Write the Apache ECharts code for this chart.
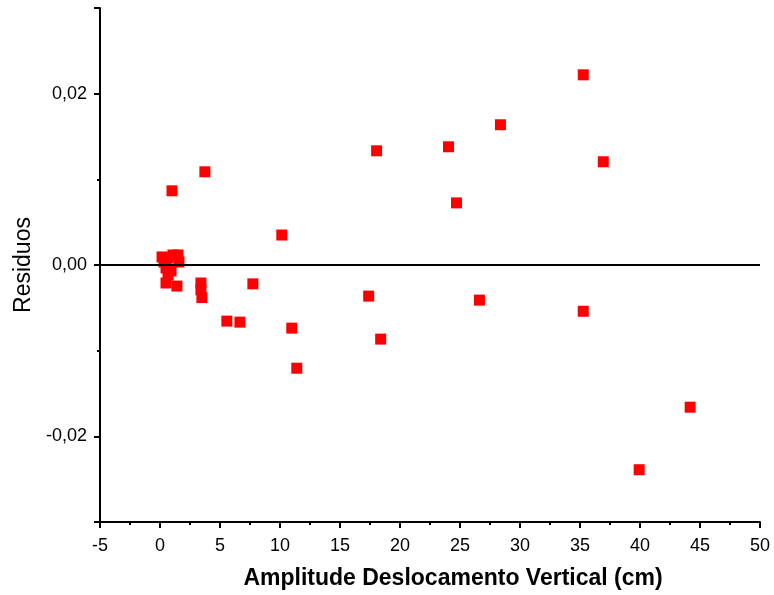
<!DOCTYPE html>
<html>
<head>
<meta charset="utf-8">
<script src="https://cdn.jsdelivr.net/npm/echarts@6/dist/echarts.min.js"></script>
<style>html,body{margin:0;padding:0;background:#fff}#c{width:774px;height:595px}</style>
</head>
<body>
<div id="c"></div>
<script>
var amplitudes = [35.27, 28.37, 24.04, 18.05, 36.94, 3.74, 1.0, 24.71, 10.15, 7.74, 17.39, 26.62, 35.27, 5.57, 6.66, 10.98, 18.39, 11.40, 44.18, 39.93,
  0.17, 0.33, 0.67, 1.08, 1.5, 1.58, 0.5, 0.92, 0.67, 0.5, 1.41, 3.41, 3.41, 3.49];
var residuos = [0.0222, 0.01637, 0.0138, 0.01333, 0.01205, 0.01088, 0.00866, 0.00725, 0.0035, -0.0022, -0.00363, -0.0041, -0.0054, -0.00655, -0.00667, -0.00737, -0.00865, -0.01205, -0.0166, -0.0239,
  0.00094, 0.00035, 0.00082, 0.00117, 0.00117, 0.00035, -0.00035, -0.0007, -0.00117, -0.0021, -0.00246, -0.0021, -0.0029, -0.0038];
var xTitle = 'Amplitude Deslocamento Vertical (cm)';
var yTitle = 'Residuos';

var points = amplitudes.map(function (x, i) { return [x, residuos[i]]; });
var chart = echarts.init(document.getElementById('c'), null, {renderer: 'canvas'});
var font = 'Liberation Sans, Arial, sans-serif';
chart.setOption({
  animation: false,
  backgroundColor: '#ffffff',
  grid: {left: 100, right: 14, top: 8, bottom: 70, containLabel: false},
  xAxis: {
    type: 'value', min: -5, max: 50, interval: 5,
    name: xTitle, nameLocation: 'middle', nameGap: 45,
    nameTextStyle: {fontFamily: font, fontSize: 23, fontWeight: 'bold', color: '#000', padding: [0, 0, 0, 46]},
    axisLine: {show: true, onZero: false, lineStyle: {color: '#000', width: 2}},
    axisTick: {show: true, inside: false, length: 6, lineStyle: {color: '#000', width: 2}},
    minorTick: {show: true, splitNumber: 2, length: 3, lineStyle: {color: '#000', width: 2}},
    axisLabel: {fontFamily: font, fontSize: 18, color: '#000', margin: 15},
    splitLine: {show: false}
  },
  yAxis: {
    type: 'value', min: -0.03, max: 0.03, splitNumber: 3,
    name: yTitle, nameLocation: 'middle', nameGap: 65,
    nameTextStyle: {fontFamily: font, fontSize: 23, color: '#000'},
    axisLine: {show: true, onZero: false, lineStyle: {color: '#000', width: 2}},
    axisTick: {show: true, inside: false, length: 6, lineStyle: {color: '#000', width: 2}},
    minorTick: {show: true, splitNumber: 2, length: 3, lineStyle: {color: '#000', width: 2}},
    axisLabel: {
      fontFamily: font, fontSize: 18, color: '#000', margin: 13,
      formatter: function (v) {
        if (Math.abs(Math.abs(v) - 0.03) < 1e-9) return '';
        return v.toFixed(2).replace('.', ',');
      }
    },
    splitLine: {show: false}
  },
  series: [{
    type: 'scatter',
    data: points,
    symbol: 'rect',
    symbolSize: 11,
    itemStyle: {color: '#ff0000', opacity: 1},
    markLine: {
      silent: true,
      symbol: ['none', 'none'],
      label: {show: false},
      lineStyle: {color: '#000', width: 2, type: 'solid'},
      data: [{yAxis: 0}]
    }
  }]
});
</script>
</body>
</html>
